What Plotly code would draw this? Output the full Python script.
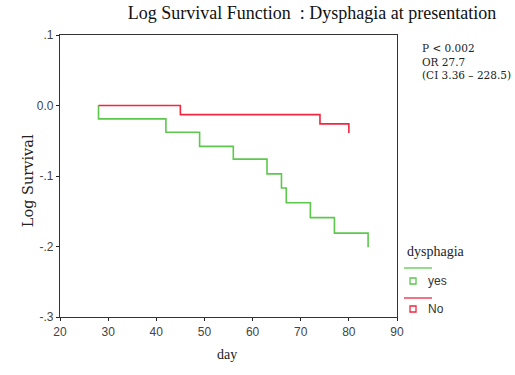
import plotly.graph_objects as go

# Data
yes_days = [28, 28, 42, 49, 56, 63, 66, 67, 72, 77, 84]
yes_logsurv = [0.0, -0.019, -0.038, -0.058, -0.076, -0.097, -0.117, -0.138, -0.159, -0.181, -0.201]
no_days = [28, 45, 74, 80]
no_logsurv = [0.0, -0.013, -0.026, -0.039]
x_ticks = [20, 30, 40, 50, 60, 70, 80, 90]
y_ticks = [0.1, 0.0, -0.1, -0.2, -0.3]
y_tick_labels = [".1", "0.0", "-.1", "-.2", "-.3"]
stats_lines = ["P < 0.002", "OR 27.7", "(CI 3.36 \u2013 228.5)"]

GREEN = "#5cc84c"
RED = "#f2263f"
SERIF = "Liberation Serif, Times New Roman, serif"
SANS = "Liberation Sans, Arial, sans-serif"

fig = go.Figure()
fig.add_trace(go.Scatter(x=yes_days, y=yes_logsurv, mode="lines", line=dict(color=GREEN, width=1.6, shape="hv"),
                         name="yes", showlegend=False))
fig.add_trace(go.Scatter(x=no_days, y=no_logsurv, mode="lines", line=dict(color=RED, width=1.6, shape="hv"),
                         name="No", showlegend=False))

axis_common = dict(showgrid=False, zeroline=False, showline=True, linecolor="#333333", linewidth=1.3,
                   mirror=True, ticks="outside", ticklen=3, tickcolor="#222222",
                   tickfont=dict(family=SANS, size=12, color="#444444"))
fig.update_xaxes(range=[20, 90], tickvals=x_ticks, ticktext=[str(v) for v in x_ticks], **axis_common)
fig.update_yaxes(range=[-0.3, 0.1], tickvals=y_ticks, ticktext=y_tick_labels, **axis_common)

fig.update_layout(
    width=515, height=375,
    margin=dict(l=60, r=118, t=35, b=58),
    paper_bgcolor="white", plot_bgcolor="white",
    title=dict(text="Log Survival Function  : Dysphagia at presentation", x=312/515, xanchor="center",
               y=1-13/375, yanchor="middle", font=dict(family=SERIF, size=18, color="#111111")),
    showlegend=False,
)

annots = []
annots.append(dict(text="Log Survival", x=-0.124, y=(317-181)/282, xref="paper", yref="paper", textangle=-90,
                   showarrow=False, font=dict(family="DejaVu Serif, serif", size=14.5, color="#222222")))
annots.append(dict(text="day", x=0.4955, y=-0.1667, xref="paper", yref="paper", showarrow=False,
                   font=dict(family=SERIF, size=14, color="#222222")))
annots.append(dict(text="<br>".join(stats_lines), x=(420-60)/337, y=(317-62)/282, xref="paper", yref="paper",
                   xanchor="left", yanchor="middle", align="left", showarrow=False,
                   font=dict(family="DejaVu Serif, serif", size=10.5, color="#222222")))
# legend
annots.append(dict(text="dysphagia", x=1.0237, y=0.2305, xref="paper", yref="paper", xanchor="left",
                   yanchor="middle", showarrow=False, font=dict(family=SERIF, size=14, color="#222222")))
annots.append(dict(text="yes", x=1.0861, y=0.1277, xref="paper", yref="paper", xanchor="left",
                   yanchor="middle", showarrow=False, font=dict(family=SANS, size=12, color="#333333")))
annots.append(dict(text="No", x=1.0861, y=0.0284, xref="paper", yref="paper", xanchor="left",
                   yanchor="middle", showarrow=False, font=dict(family=SANS, size=12, color="#333333")))
fig.update_layout(annotations=annots)

shapes = []
for col, ly, sy in [(GREEN, 0.1738, 0.1277), (RED, 0.0674, 0.0284)]:
    shapes.append(dict(type="line", xref="paper", yref="paper", x0=1.0208, x1=1.1039, y0=ly, y1=ly,
                       line=dict(color=col, width=1.3)))
    shapes.append(dict(type="rect", xref="paper", yref="paper", x0=1.0475-0.0089, x1=1.0475+0.0089,
                       y0=sy-0.0106, y1=sy+0.0106, line=dict(color=col, width=1.3), fillcolor="white"))
fig.update_layout(shapes=shapes)

fig.write_html("out.html")
